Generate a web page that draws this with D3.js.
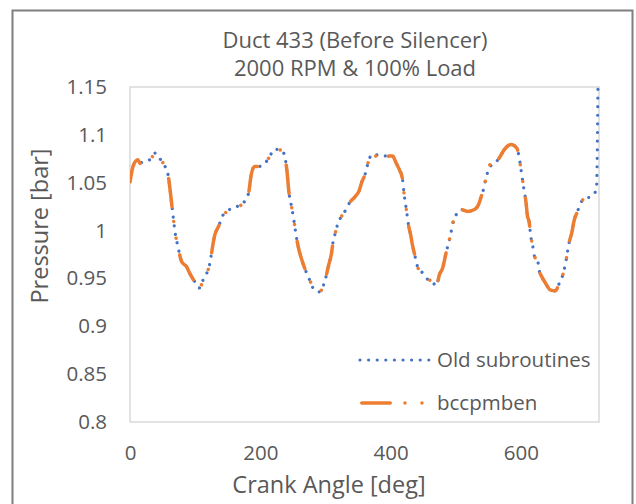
<!DOCTYPE html>
<html>
<head>
<meta charset="utf-8">
<script src="https://cdn.jsdelivr.net/npm/d3@7"></script>
<style>
  html, body { margin: 0; padding: 0; background: #fff; }
  text { font-family: "Open Sans", "Noto Sans", sans-serif; fill: #595959; }
</style>
</head>
<body>
<div id="chart"></div>
<script>
// crank angle [deg] shared by both series
const crankAngle = [0,5,12,16,23,32,39,46,53,58,63,66,69,74,79,87,92,100,107,112,122,130,137,141,149,158,172,177,182,186,191,199,208,215,221,232,236,241,244,248,252,255,259,263,268,276,284,291,299,305,309,312,315,319,323,329,337,345,352,356,361,364,368,373,380,386,391,398,403,409,414,418,421,424,426,428,431,433,437,439,442,449,457,465,470,475,480,485,489,492,495,502,508,518,529,535,539,543,546,550,553,557,561,567,574,585,594,597,600,603,605,608,610,613,615,618,621,626,628,632,638,645,653,659,665,670,674,678,682,687,692,700,707,716];

// bccpmben pressure [bar]
const bccpmben = [1.051,1.068,1.074,1.070,1.072,1.075,1.081,1.075,1.068,1.060,1.034,1.016,0.999,0.982,0.968,0.962,0.955,0.946,0.940,0.948,0.964,0.995,1.006,1.014,1.020,1.024,1.027,1.032,1.039,1.058,1.067,1.067,1.071,1.078,1.085,1.084,1.081,1.062,1.040,1.025,1.009,0.995,0.981,0.971,0.961,0.948,0.937,0.936,0.947,0.964,0.975,0.989,0.997,1.007,1.013,1.019,1.029,1.035,1.042,1.051,1.059,1.067,1.076,1.082,1.076,1.079,1.075,1.078,1.078,1.070,1.063,1.055,1.037,1.023,1.013,1.004,0.995,0.987,0.975,0.969,0.961,0.956,0.949,0.947,0.941,0.954,0.961,0.976,0.987,0.995,1.006,1.018,1.022,1.020,1.022,1.027,1.035,1.044,1.053,1.063,1.069,1.065,1.071,1.076,1.084,1.090,1.086,1.078,1.065,1.051,1.042,1.029,1.016,1.008,0.995,0.985,0.973,0.968,0.959,0.952,0.945,0.938,0.937,0.945,0.955,0.971,0.987,0.997,1.011,1.020,1.029,1.034,1.034,1.039];

// old subroutines: same angles plus a final jump at 720 deg
const oldAngle = crankAngle.concat([720]);
const oldSubroutines = [1.051,1.068,1.071,1.071,1.072,1.075,1.081,1.075,1.068,1.060,1.034,1.016,0.999,0.982,0.968,0.962,0.955,0.946,0.940,0.948,0.964,0.995,1.006,1.014,1.020,1.024,1.027,1.032,1.039,1.058,1.067,1.067,1.071,1.078,1.085,1.084,1.081,1.062,1.040,1.025,1.009,0.995,0.981,0.971,0.961,0.948,0.937,0.936,0.947,0.964,0.975,0.989,0.997,1.007,1.013,1.019,1.029,1.035,1.042,1.051,1.059,1.067,1.076,1.080,1.079,1.079,1.078,1.078,1.078,1.070,1.063,1.055,1.037,1.023,1.013,1.004,0.995,0.987,0.975,0.969,0.961,0.956,0.949,0.946,0.942,0.954,0.961,0.976,0.987,0.995,1.006,1.018,1.022,1.020,1.022,1.027,1.035,1.044,1.053,1.063,1.067,1.069,1.071,1.076,1.084,1.090,1.086,1.078,1.065,1.051,1.042,1.029,1.016,1.008,0.995,0.985,0.973,0.968,0.959,0.952,0.945,0.938,0.937,0.945,0.955,0.971,0.987,0.997,1.011,1.020,1.029,1.034,1.035,1.043,1.30];

const yTicks = [0.8,0.85,0.9,0.95,1,1.05,1.1,1.15];
const xTicks = [0,200,400,600];
const titleLines = ['Duct 433 (Before Silencer)', '2000 RPM & 100% Load'];
const seriesNames = ['Old subroutines', 'bccpmben'];

const W = 636, H = 504;
const plot = {left: 130, right: 599, top: 87, bottom: 422};
const blue = '#4472C4', orange = '#ED7D31';
const orangeDash = '28.5 14.7 0.001 17 0.001 17';
const blueDash = '0.001 8.6';

const svg = d3.select('#chart').append('svg')
  .attr('width', W)
  .attr('height', H);

// chart area border
svg.append('rect')
  .attr('x', 12.5).attr('y', 10.5)
  .attr('width', 620).attr('height', 520)
  .attr('fill', '#fff')
  .attr('stroke', '#7f7f7f')
  .attr('stroke-width', 2);

const x = d3.scaleLinear().domain([0, 720]).range([plot.left, plot.right]);
const y = d3.scaleLinear().domain([0.8, 1.15]).range([plot.bottom, plot.top]);

// plot area border
svg.append('rect')
  .attr('x', plot.left).attr('y', plot.top)
  .attr('width', plot.right - plot.left)
  .attr('height', plot.bottom - plot.top)
  .attr('fill', 'none')
  .attr('stroke', '#d9d9d9')
  .attr('stroke-width', 1.5);

// title
svg.append('g').selectAll('text')
  .data(titleLines)
  .enter().append('text')
    .attr('x', 355)
    .attr('y', (d, i) => 40 + i * 28)
    .attr('dy', '0.35em')
    .attr('text-anchor', 'middle')
    .style('font-size', '22px')
    .text(d => d);

// axes
const yAxis = svg.append('g')
  .attr('transform', `translate(${plot.left},0)`)
  .call(d3.axisLeft(y).tickValues(yTicks).tickSize(0).tickPadding(23)
    .tickFormat(d => String(+d.toFixed(2))));
yAxis.select('.domain').remove();
yAxis.selectAll('text').style('font-size', '20.5px').style('font-family', null).attr('fill', null);

const xAxis = svg.append('g')
  .attr('transform', `translate(0,${plot.bottom})`)
  .call(d3.axisBottom(x).tickValues(xTicks).tickSize(0).tickFormat(d3.format('d')));
xAxis.select('.domain').remove();
xAxis.selectAll('text').attr('y', 31).attr('dy', '0.35em')
  .style('font-size', '20.5px').style('font-family', null).attr('fill', null);

// axis titles
svg.append('text')
  .attr('x', 329).attr('y', 485)
  .attr('dy', '0.35em')
  .attr('text-anchor', 'middle')
  .style('font-size', '23.5px')
  .text('Crank Angle [deg]');

svg.append('text')
  .attr('transform', 'translate(40,226) rotate(-90)')
  .attr('dy', '0.35em')
  .attr('text-anchor', 'middle')
  .style('font-size', '23.5px')
  .text('Pressure [bar]');

// clip lines to the plot area
svg.append('defs').append('clipPath')
  .attr('id', 'clip')
  .append('rect')
  .attr('x', plot.left).attr('y', plot.top)
  .attr('width', plot.right - plot.left + 3)
  .attr('height', plot.bottom - plot.top);

const line = d3.line()
  .x(d => x(d[0]))
  .y(d => y(d[1]))
  .curve(d3.curveMonotoneX);

const oldData = oldAngle.map((a, i) => [a, oldSubroutines[i]]);
const newData = crankAngle.map((a, i) => [a, bccpmben[i]]);

const lines = svg.append('g').attr('clip-path', 'url(#clip)');

lines.append('path')
  .datum(oldData)
  .attr('d', line)
  .attr('fill', 'none')
  .attr('stroke', blue)
  .attr('stroke-width', 3.2)
  .attr('stroke-linecap', 'round')
  .attr('stroke-dasharray', blueDash);

lines.append('path')
  .datum(newData)
  .attr('d', line)
  .attr('fill', 'none')
  .attr('stroke', orange)
  .attr('stroke-width', 3.5)
  .attr('stroke-linecap', 'round')
  .attr('stroke-linejoin', 'round')
  .attr('stroke-dasharray', orangeDash);

// legend
const legend = svg.append('g');
const legendY = [360, 403];

legend.append('line')
  .attr('x1', 360).attr('x2', 430)
  .attr('y1', legendY[0]).attr('y2', legendY[0])
  .attr('stroke', blue)
  .attr('stroke-width', 3.2)
  .attr('stroke-linecap', 'round')
  .attr('stroke-dasharray', blueDash);

legend.append('line')
  .attr('x1', 361.75).attr('x2', 423)
  .attr('y1', legendY[1]).attr('y2', legendY[1])
  .attr('stroke', orange)
  .attr('stroke-width', 3.5)
  .attr('stroke-linecap', 'round')
  .attr('stroke-dasharray', orangeDash);

legend.selectAll('text')
  .data(seriesNames)
  .enter().append('text')
    .attr('x', 437)
    .attr('y', (d, i) => legendY[i])
    .attr('dy', '0.35em')
    .style('font-size', '20.5px')
    .text(d => d);
</script>
</body>
</html>
